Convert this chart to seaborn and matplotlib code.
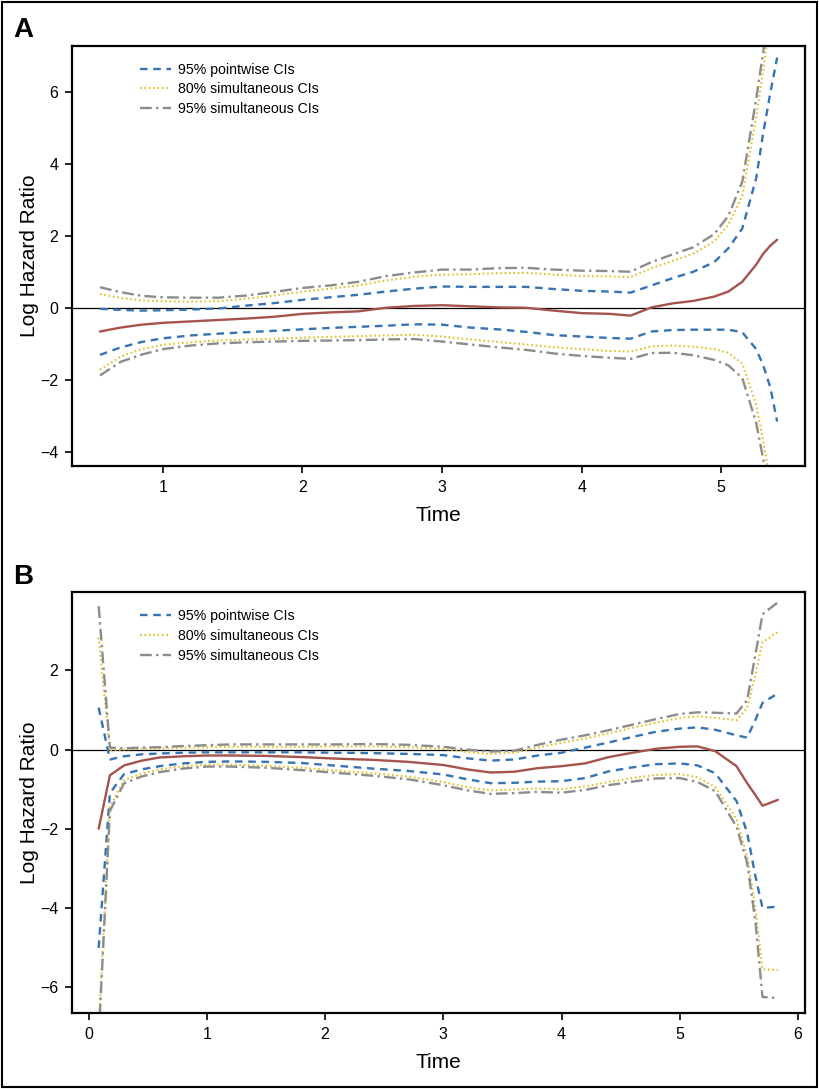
import matplotlib
matplotlib.use("Agg")
import matplotlib.pyplot as plt
from matplotlib.patches import Rectangle
import seaborn as sns

# Panel A: log hazard ratio over time with confidence bands
time_a = [0.55, 0.7, 0.85, 1.0, 1.2, 1.4, 1.6, 1.8, 2.0, 2.2, 2.4, 2.6, 2.8, 3.0, 3.2, 3.4,
          3.6, 3.8, 4.0, 4.2, 4.35, 4.5, 4.65, 4.8, 4.95, 5.05, 5.15, 5.25, 5.3, 5.35, 5.4]
est_a = [-0.66, -0.55, -0.47, -0.42, -0.38, -0.34, -0.30, -0.25, -0.17, -0.13, -0.10, 0.00,
         0.05, 0.07, 0.04, 0.01, 0.00, -0.08, -0.15, -0.17, -0.22, 0.01, 0.12, 0.19, 0.31,
         0.45, 0.72, 1.20, 1.50, 1.72, 1.89]
pw95_hi_a = [-0.03, -0.06, -0.08, -0.07, -0.05, -0.02, 0.06, 0.13, 0.22, 0.29, 0.36, 0.45,
             0.53, 0.59, 0.58, 0.58, 0.58, 0.52, 0.47, 0.45, 0.42, 0.62, 0.82, 1.00, 1.27,
             1.65, 2.20, 3.60, 4.85, 5.95, 6.95]
pw95_lo_a = [-1.31, -1.10, -0.95, -0.85, -0.77, -0.72, -0.68, -0.64, -0.60, -0.56, -0.53,
             -0.50, -0.46, -0.47, -0.55, -0.60, -0.67, -0.76, -0.80, -0.84, -0.86, -0.66,
             -0.62, -0.61, -0.61, -0.61, -0.68, -1.15, -1.60, -2.20, -3.16]
sim80_hi_a = [0.38, 0.27, 0.20, 0.18, 0.17, 0.18, 0.25, 0.34, 0.45, 0.53, 0.62, 0.76, 0.86,
              0.92, 0.93, 0.96, 0.97, 0.92, 0.88, 0.87, 0.85, 1.10, 1.30, 1.50, 1.85, 2.30,
              3.10, 5.30, 6.60, 8.00, 9.50]
sim80_lo_a = [-1.72, -1.35, -1.15, -1.03, -0.96, -0.91, -0.88, -0.86, -0.83, -0.81, -0.79,
              -0.77, -0.75, -0.80, -0.88, -0.95, -1.02, -1.10, -1.15, -1.20, -1.22, -1.07,
              -1.05, -1.08, -1.15, -1.25, -1.55, -2.70, -3.70, -4.80, -6.00]
sim95_hi_a = [0.57, 0.43, 0.33, 0.29, 0.28, 0.28, 0.34, 0.44, 0.55, 0.62, 0.72, 0.88, 0.98,
              1.06, 1.06, 1.10, 1.11, 1.06, 1.03, 1.02, 1.00, 1.27, 1.48, 1.68, 2.05, 2.55,
              3.50, 5.80, 7.10, 8.60, 10.2]
sim95_lo_a = [-1.88, -1.50, -1.30, -1.15, -1.05, -0.99, -0.96, -0.94, -0.92, -0.91, -0.90,
              -0.88, -0.87, -0.94, -1.02, -1.10, -1.17, -1.27, -1.34, -1.39, -1.42, -1.26,
              -1.25, -1.32, -1.45, -1.60, -1.95, -3.20, -4.20, -5.40, -6.60]

# Panel B
time_b = [0.085, 0.18, 0.3, 0.45, 0.6, 0.8, 1.0, 1.2, 1.5, 1.8, 2.1, 2.4, 2.7, 3.0, 3.2, 3.4,
          3.6, 3.8, 4.0, 4.2, 4.4, 4.6, 4.8, 5.0, 5.15, 5.3, 5.48, 5.57, 5.64, 5.7, 5.83]
est_b = [-2.00, -0.65, -0.40, -0.28, -0.20, -0.17, -0.15, -0.15, -0.16, -0.19, -0.23, -0.26,
         -0.31, -0.39, -0.50, -0.58, -0.56, -0.47, -0.42, -0.35, -0.19, -0.08, 0.02, 0.07,
         0.08, -0.04, -0.42, -0.85, -1.15, -1.42, -1.27]
pw95_hi_b = [1.06, -0.25, -0.17, -0.12, -0.10, -0.08, -0.07, -0.07, -0.07, -0.07, -0.08,
             -0.09, -0.11, -0.14, -0.22, -0.28, -0.25, -0.15, -0.08, 0.05, 0.18, 0.32, 0.45,
             0.53, 0.56, 0.50, 0.36, 0.30, 0.75, 1.18, 1.42]
pw95_lo_b = [-5.01, -1.10, -0.62, -0.50, -0.42, -0.35, -0.31, -0.30, -0.31, -0.34, -0.41,
             -0.48, -0.54, -0.63, -0.75, -0.85, -0.84, -0.81, -0.80, -0.72, -0.55, -0.45,
             -0.37, -0.35, -0.40, -0.60, -1.30, -2.10, -3.20, -4.00, -3.97]
sim80_hi_b = [2.83, -0.02, 0.00, 0.02, 0.03, 0.05, 0.06, 0.07, 0.07, 0.07, 0.08, 0.08, 0.06,
              0.02, -0.06, -0.11, -0.08, 0.05, 0.17, 0.28, 0.41, 0.55, 0.68, 0.80, 0.84, 0.80,
              0.74, 1.05, 1.90, 2.71, 2.97]
sim80_lo_b = [-7.00, -1.45, -0.77, -0.61, -0.50, -0.42, -0.38, -0.38, -0.41, -0.46, -0.53,
              -0.60, -0.68, -0.82, -0.95, -1.03, -1.01, -0.98, -1.00, -0.93, -0.82, -0.72,
              -0.64, -0.62, -0.70, -0.95, -1.75, -2.70, -4.00, -5.55, -5.57]
sim95_hi_b = [3.62, 0.05, 0.03, 0.05, 0.06, 0.09, 0.11, 0.13, 0.13, 0.13, 0.13, 0.14, 0.12,
              0.07, 0.00, -0.05, -0.03, 0.12, 0.25, 0.36, 0.49, 0.63, 0.77, 0.90, 0.94, 0.93,
              0.91, 1.25, 2.40, 3.42, 3.72]
sim95_lo_b = [-7.30, -1.55, -0.85, -0.68, -0.57, -0.48, -0.43, -0.43, -0.46, -0.52, -0.59,
              -0.66, -0.75, -0.90, -1.03, -1.12, -1.10, -1.07, -1.09, -1.02, -0.90, -0.81,
              -0.73, -0.72, -0.82, -1.05, -1.95, -2.86, -4.35, -6.25, -6.28]

band_labels = ["95% pointwise CIs", "80% simultaneous CIs", "95% simultaneous CIs"]
band_colors = ["#3673b3", "#e2c02a", "#8c8c8c"]
band_styles = [(0, (3.2, 2.4)), (0, (0.8, 1.3)), (0, (5, 1.8, 1, 1.8))]
band_widths = [1.7, 1.5, 1.7]
est_color = "#a5534c"

sns.set_theme(style="white")
plt.rcParams["font.family"] = ["Liberation Sans", "DejaVu Sans"]
plt.rcParams.update({"text.color": "black", "axes.labelcolor": "black",
                     "xtick.color": "black", "ytick.color": "black"})


def draw_panel(ax, x, est, bands, xlim, ylim, xticks, yticks):
    ax.axhline(0, color="black", lw=0.9, zorder=1)
    for (hi, lo), lab, col, ls, lw in zip(bands, band_labels, band_colors, band_styles, band_widths):
        sns.lineplot(x=x, y=hi, ax=ax, color=col, linestyle=ls, lw=lw, label=lab, estimator=None)
        sns.lineplot(x=x, y=lo, ax=ax, color=col, linestyle=ls, lw=lw, estimator=None)
    sns.lineplot(x=x, y=est, ax=ax, color=est_color, lw=1.7, estimator=None)
    ax.set_xlim(*xlim)
    ax.set_ylim(*ylim)
    ax.set_xticks(xticks)
    ax.set_yticks(yticks)
    ax.tick_params(axis="both", direction="out", length=5, width=1.2, labelsize=11.5,
                   colors="black", bottom=True, left=True, pad=5)
    for sp in ax.spines.values():
        sp.set_color("black")
        sp.set_linewidth(1.6)
    ax.set_xlabel("Time", fontsize=15, labelpad=8)
    ax.set_ylabel("Log Hazard Ratio", fontsize=15)
    ax.yaxis.set_label_coords(-0.045, 0.5)
    ax.legend(loc="upper left", bbox_to_anchor=(0.075, 0.99), frameon=False, fontsize=10.2,
              handlelength=2.2, handletextpad=0.5, labelspacing=0.4)


fig = plt.figure(figsize=(8.19, 10.89), dpi=100)
ax_a = fig.add_axes([0.088, 0.572, 0.895, 0.386])
ax_b = fig.add_axes([0.088, 0.070, 0.895, 0.386])

draw_panel(ax_a, time_a, est_a,
           [(pw95_hi_a, pw95_lo_a), (sim80_hi_a, sim80_lo_a), (sim95_hi_a, sim95_lo_a)],
           (0.35, 5.6), (-4.4, 7.28), [1, 2, 3, 4, 5], [-4, -2, 0, 2, 4, 6])
draw_panel(ax_b, time_b, est_b,
           [(pw95_hi_b, pw95_lo_b), (sim80_hi_b, sim80_lo_b), (sim95_hi_b, sim95_lo_b)],
           (-0.14, 6.06), (-6.65, 3.97), [0, 1, 2, 3, 4, 5, 6], [-6, -4, -2, 0, 2])

fig.text(0.016, 0.972, "A", fontsize=20, fontweight="bold", va="center")
fig.text(0.016, 0.470, "B", fontsize=20, fontweight="bold", va="center")
fig.patches.append(Rectangle((0.002, 0.002), 0.996, 0.996, transform=fig.transFigure,
                             fill=False, edgecolor="black", lw=1.5))

fig.savefig("out.png", dpi=100)
